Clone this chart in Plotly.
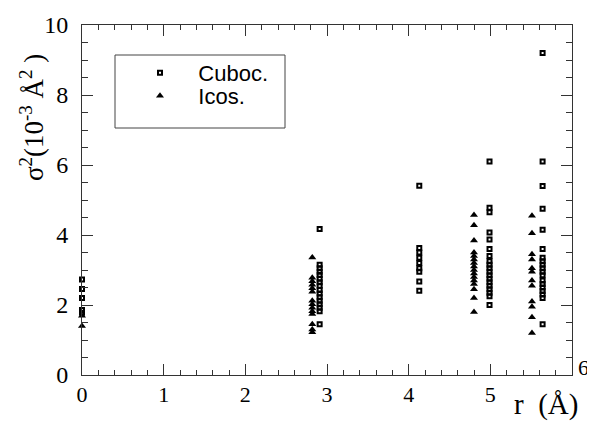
import plotly.graph_objects as go

# Cuboctahedral (squares) clusters: x position and sigma^2 values
cub_x = [0.0, 2.91, 4.13, 4.99, 5.64]
cub_y = [
    [2.73, 2.46, 2.2, 1.86, 1.78],
    [4.17, 3.15, 3.05, 2.95, 2.86, 2.75, 2.65, 2.55, 2.43, 2.33, 2.22, 2.12, 2.02, 1.92, 1.82, 1.45],
    [5.41, 3.63, 3.5, 3.35, 3.2, 3.05, 2.95, 2.67, 2.41],
    [6.1, 4.78, 4.65, 4.07, 3.87, 3.6, 3.4, 3.25, 3.15, 3.05, 2.95, 2.85, 2.75, 2.65, 2.55, 2.45, 2.35, 2.25, 2.0],
    [9.2, 6.1, 5.4, 4.75, 4.15, 3.6, 3.35, 3.25, 3.15, 3.05, 2.95, 2.85, 2.7, 2.6, 2.5, 2.4, 2.3, 2.2, 1.45],
]
# Icosahedral (triangles) clusters
ico_x = [0.0, 2.82, 4.80, 5.51]
ico_y = [
    [1.69, 1.40],
    [3.36, 2.78, 2.68, 2.58, 2.48, 2.38, 2.12, 2.02, 1.92, 1.82, 1.74, 1.45, 1.30, 1.22],
    [4.57, 4.28, 3.84, 3.5, 3.4, 3.3, 3.2, 3.1, 3.0, 2.9, 2.8, 2.7, 2.6, 2.45, 2.2, 1.8],
    [4.55, 4.05, 3.45, 3.3, 3.05, 2.95, 2.7, 2.55, 2.1, 1.95, 1.65, 1.2],
]

x_ticks = [0, 1, 2, 3, 4, 5, 6]
y_ticks = [0, 2, 4, 6, 8, 10]

def flatten(xs, ys):
    fx, fy = [], []
    for x, col in zip(xs, ys):
        for v in col:
            fx.append(x)
            fy.append(v)
    return fx, fy

cx, cy = flatten(cub_x, cub_y)
ix, iy = flatten(ico_x, ico_y)

# target pixel geometry (page coords): plot x0=82, x1=572, y top=25, bottom=375
def px(x):
    return (x - 82) / 490

def py(y):
    return (375 - y) / 350

NB = "\u00a0"
fig = go.Figure()
fig.add_trace(go.Scatter(
    x=cx, y=cy, mode="markers", name=NB * 3 + "Cuboc.", legend="legend",
    marker=dict(symbol="square-open", size=4, color="black", line=dict(width=2, color="black")),
    cliponaxis=False,
))
fig.add_trace(go.Scatter(
    x=ix, y=iy, mode="markers", name=NB * 3 + "Icos.", legend="legend2",
    marker=dict(symbol="triangle-up", size=7, color="black", line=dict(width=0)),
    cliponaxis=False,
))

axis_common = dict(
    showgrid=False, zeroline=False, showline=True, linecolor="#333", linewidth=1,
    mirror="ticks", ticks="inside", ticklen=11, tickcolor="#333", tickwidth=1,
    automargin=False,
)
fig.update_xaxes(
    range=[0, 6], tickvals=x_ticks,
    ticktext=[str(t) if t != x_ticks[-1] else "" for t in x_ticks],
    tickfont=dict(family="Liberation Serif", size=22, color="black"),
    minor=dict(dtick=0.2, ticks="inside", ticklen=5, tickcolor="#333"),
    **axis_common,
)
fig.update_yaxes(
    range=[0, 10], tickvals=y_ticks, ticktext=[str(t) for t in y_ticks],
    tickfont=dict(family="Liberation Serif", size=24, color="black"),
    minor=dict(dtick=0.5, ticks="inside", ticklen=6, tickcolor="#333"),
    ticklabelstandoff=8,
    **axis_common,
)

# last x tick label sits raised at the right corner in the reference
fig.add_annotation(
    xref="paper", yref="paper", x=px(583), y=py(367), xanchor="center", yanchor="middle",
    text=str(x_ticks[-1]), showarrow=False,
    font=dict(family="Liberation Serif", size=22, color="black"),
)

# legend frame
fig.add_shape(type="rect", xref="paper", yref="paper",
              x0=px(115), x1=px(285), y0=py(128), y1=py(55),
              line=dict(color="#444", width=1), fillcolor="white", layer="below")

fig.add_annotation(
    xref="paper", yref="paper", x=px(32), y=py(118), xanchor="center", yanchor="middle",
    text="σ<sup>2</sup>(10<sup>-3</sup> Å<sup>2</sup> )", textangle=-90, showarrow=False,
    font=dict(family="Liberation Serif", size=27, color="black"),
)
fig.add_annotation(
    xref="paper", yref="paper", x=px(546), y=py(405), xanchor="center", yanchor="middle",
    text="r" + NB * 2 + "(Å)", showarrow=False,
    font=dict(family="Liberation Serif", size=29, color="black"),
)

leg_common = dict(
    xanchor="left", yanchor="middle",
    bgcolor="rgba(0,0,0,0)", borderwidth=0,
    font=dict(family="Liberation Sans", size=22, color="black"),
    itemsizing="trace",
)
fig.update_layout(
    width=595, height=423,
    margin=dict(l=74, r=31, t=17, b=56),
    paper_bgcolor="white", plot_bgcolor="white",
    showlegend=True,
    legend=dict(x=px(140), y=py(73), **leg_common),
    legend2=dict(x=px(140), y=py(96), **leg_common),
)

fig.write_html("out.html")
